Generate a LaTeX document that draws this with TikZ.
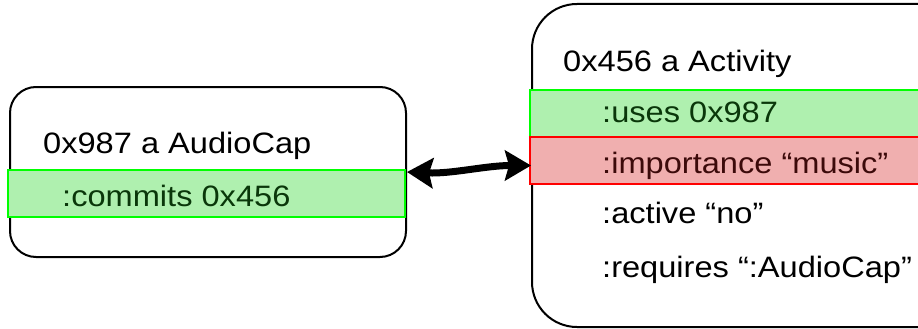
\documentclass[tikz,border=0pt]{standalone}
\usepackage{fontspec}
\usepackage{tikz}
\usetikzlibrary{arrows.meta}
\newfontfamily\arialw{Liberation Sans}[FakeStretch=1.105]
\definecolor{bandgreen}{RGB}{175,240,175}
\definecolor{bandred}{RGB}{240,175,175}
\definecolor{txtgreen}{RGB}{10,55,10}
\definecolor{txtred}{RGB}{60,10,10}
\tikzstyle{obj}=[draw, line width=2pt, inner sep=0, fill=white]
\tikzstyle{band}=[draw, line width=2pt, inner sep=0, minimum height=47pt]
\tikzstyle{lbl}=[anchor=base west, inner sep=0, font=\arialw\fontsize{29.5}{35}\selectfont]
\tikzstyle{link}=[line width=7pt, {Stealth[length=26pt,width=30pt,inset=4pt]}-{Stealth[length=26pt,width=30pt,inset=4pt]}]

\begin{document}
\begin{tikzpicture}[x=1pt, y=-1pt]
\useasboundingbox (0,0) rectangle (918,329);
\node at (208,172)[obj, rounded corners=26pt, minimum width=396pt, minimum height=170pt](lbox){};
\node at (752,165.5)[obj, rounded corners=45pt, minimum width=440pt, minimum height=323pt](rbox){};
\node at (206.5,193)[band, draw=green, fill=bandgreen, minimum width=397pt](lcommits){};
\node at (735,113.5)[band, draw=green, fill=bandgreen, minimum width=410pt](ruses){};
\node at (735,160.5)[band, draw=red, fill=bandred, minimum width=410pt](rimp){};
\node at (43,153)[lbl](ltitle){0x987 a AudioCap};
\node at (62,206)[lbl, text=txtgreen](lcommitstxt){:commits 0x456};
\node at (563,71)[lbl](rtitle){0x456 a Activity};
\node at (602,122)[lbl, text=txtgreen](rusestxt){:uses 0x987};
\node at (602,173)[lbl, text=txtred](rimptxt){:importance “music”};
\node at (602,223)[lbl](ractive){:active “no”};
\node at (602,277)[lbl](rrequires){:requires “:AudioCap”};
\draw[link] (lbox.east) .. controls +(45,2) and +(-45,0) .. (rbox.west);
\end{tikzpicture}
\end{document}
